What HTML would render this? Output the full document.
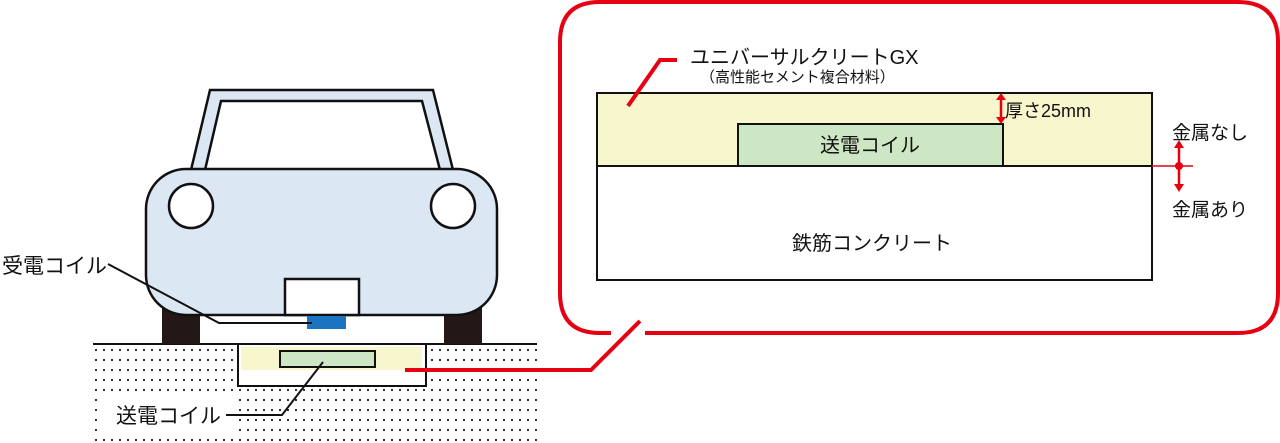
<!DOCTYPE html>
<html><head><meta charset="utf-8"><style>
html,body{margin:0;padding:0;background:#fff;width:1280px;height:443px;overflow:hidden}
svg{display:block}
text{font-family:"Liberation Sans","Noto Sans CJK JP",sans-serif;fill:#111}
</style></head><body>
<svg width="1280" height="443" viewBox="0 0 1280 443" xmlns="http://www.w3.org/2000/svg">
<defs>
<pattern id="dots" x="95" y="349" width="8" height="10" patternUnits="userSpaceOnUse">
<circle cx="1" cy="1" r="1.1" fill="#222"/>
</pattern>
</defs>
<!-- ground -->
<rect x="93" y="345" width="444" height="98" fill="url(#dots)"/>
<rect x="100" y="393" width="136" height="42" fill="#fff"/>
<rect x="238" y="344" width="188" height="42" fill="#fff" stroke="#111" stroke-width="2"/>
<rect x="241" y="347" width="181" height="23" fill="#f8f6cc"/>
<rect x="280" y="351" width="95" height="16" fill="#cde6c4" stroke="#111" stroke-width="2"/>
<line x1="93" y1="344" x2="537" y2="344" stroke="#111" stroke-width="2"/>
<!-- wheels -->
<rect x="162" y="300" width="38" height="44" fill="#231815"/>
<rect x="444" y="300" width="38" height="44" fill="#231815"/>
<!-- roof -->
<polygon points="210,90 433,90 453,170 191,170" fill="#dbe7f3" stroke="#111" stroke-width="2.5"/>
<polygon points="221,101 422,101 440,170 205,170" fill="#fff" stroke="#111" stroke-width="2.5"/>
<!-- body -->
<rect x="146" y="169" width="351" height="146" rx="40" fill="#dbe7f3" stroke="#111" stroke-width="2.5"/>
<circle cx="191" cy="206" r="22" fill="#fff" stroke="#111" stroke-width="2.5"/>
<circle cx="453" cy="206" r="22" fill="#fff" stroke="#111" stroke-width="2.5"/>
<rect x="285" y="279" width="74" height="36" fill="#fff" stroke="#111" stroke-width="2.5"/>
<rect x="307" y="316" width="39" height="13" fill="#1a74c0"/>
<!-- leaders -->
<polyline points="108,264 219,323 312,323" fill="none" stroke="#111" stroke-width="2"/>
<polyline points="226,415 282,415 323,362" fill="none" stroke="#111" stroke-width="2"/>
<text x="2" y="273" font-size="21">受電コイル</text>
<text x="116" y="423" font-size="21">送電コイル</text>
<!-- callout -->
<path d="M611,333 L600,333 Q560,333 560,293 L560,42 Q560,2 600,2 L1238,2 Q1278,2 1278,42 L1278,293 Q1278,333 1238,333 L645,333" fill="none" stroke="#e60012" stroke-width="4"/>
<polyline points="405,370 591,370 640,321" fill="none" stroke="#e60012" stroke-width="4"/>
<!-- inner diagram -->
<rect x="597" y="93" width="555" height="73" fill="#f8f6cc" stroke="#111" stroke-width="2"/>
<rect x="597" y="166" width="555" height="114" fill="#fff" stroke="#111" stroke-width="2"/>
<rect x="738" y="124" width="265" height="42" fill="#cde6c4" stroke="#111" stroke-width="2"/>
<text x="870" y="152" font-size="20" text-anchor="middle">送電コイル</text>
<text x="872" y="250" font-size="20" text-anchor="middle">鉄筋コンクリート</text>
<polyline points="628,106 660,60 677,60" fill="none" stroke="#e60012" stroke-width="4"/>
<text x="690" y="64" font-size="20">ユニバーサルクリートGX</text>
<text x="700" y="82" font-size="15">（高性能セメント複合材料）</text>
<!-- thickness arrow -->
<line x1="1001" y1="98" x2="1001" y2="119" stroke="#e60012" stroke-width="2.5"/>
<polygon points="996,100 1006,100 1001,93" fill="#e60012"/>
<polygon points="996,117 1006,117 1001,124" fill="#e60012"/>
<text x="1005" y="117" font-size="18">厚さ25mm</text>
<!-- metal arrows -->
<line x1="1152" y1="166" x2="1193" y2="166" stroke="#e60012" stroke-width="1.5"/>
<circle cx="1179" cy="166" r="4" fill="#e60012"/>
<line x1="1179" y1="146" x2="1179" y2="186" stroke="#e60012" stroke-width="2.5"/>
<polygon points="1174,148 1184,148 1179,140" fill="#e60012"/>
<polygon points="1174,184 1184,184 1179,192" fill="#e60012"/>
<text x="1172" y="139" font-size="19">金属なし</text>
<text x="1172" y="216" font-size="19">金属あり</text>
</svg>
</body></html>
